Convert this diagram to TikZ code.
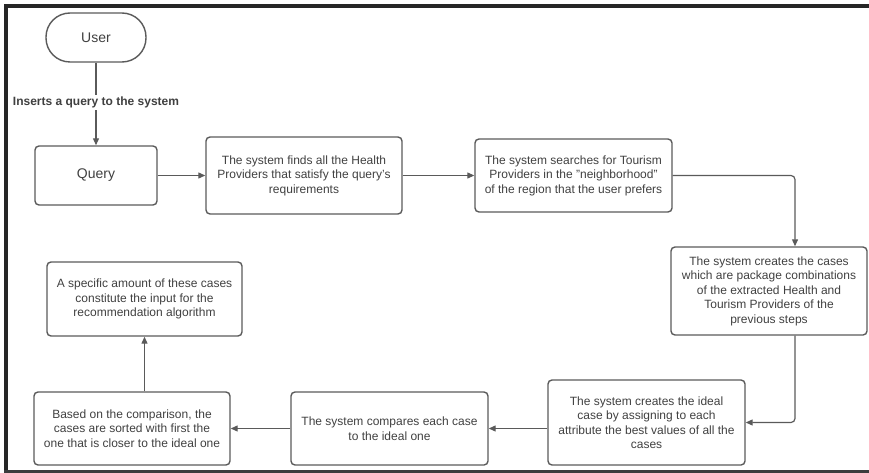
\documentclass[tikz,border=0pt]{standalone}
\usepackage{fontspec}
\setmainfont{Liberation Sans}
\usetikzlibrary{arrows.meta}
\definecolor{boxline}{HTML}{5A5A5A}
\definecolor{boxtext}{HTML}{404040}
\definecolor{frameline}{HTML}{262626}
\begin{document}
\begin{tikzpicture}[x=1pt,y=-1pt,
  flowbox/.style={draw=boxline,line width=1.4pt,rounded corners=4pt,
    inner sep=0pt,align=center,text=boxtext,
    font=\fontsize{12}{14.5}\selectfont},
  bigtext/.style={font=\fontsize{14}{17}\selectfont},
  link/.style={draw=boxline,line width=1.2pt,
    -{Triangle[length=7pt,width=6pt]}},
]
\useasboundingbox (0,0) rectangle (869,473);
% outer frame (top, left and bottom bands)
\fill[frameline] (4,4) rectangle (869,8);
\fill[frameline] (4,4) rectangle (8,473);
\fill[frameline!90] (4,470) rectangle (869,473);

% nodes
\node[flowbox,bigtext,rounded corners=24pt,minimum width=100pt,minimum height=49pt]
  (user) at (96,37.5) {User};
\node[flowbox,bigtext,minimum width=122pt,minimum height=59pt]
  (query) at (96,175.5) {Query};
\node[flowbox,minimum width=196pt,minimum height=77pt]
  (health) at (304,175.5) {The system finds all the Health\\Providers that satisfy the query's\\requirements};
\node[flowbox,minimum width=197pt,minimum height=73pt]
  (tourism) at (573.5,175.5) {The system searches for Tourism\\Providers in the "neighborhood"\\of the region that the user prefers};
\node[flowbox,minimum width=196pt,minimum height=88pt]
  (cases) at (769,291) {The system creates the cases\\which are package combinations\\of the extracted Health and\\Tourism Providers of the\\previous steps};
\node[flowbox,minimum width=197pt,minimum height=85pt]
  (ideal) at (646.5,422.5) {The system creates the ideal\\case by assigning to each\\attribute the best values of all the\\cases};
\node[flowbox,minimum width=197pt,minimum height=73pt]
  (compare) at (389.5,428.5) {The system compares each case\\to the ideal one};
\node[flowbox,minimum width=196pt,minimum height=73pt]
  (sorted) at (132,428.5) {Based on the comparison, the\\cases are sorted with first the\\one that is closer to the ideal one};
\node[flowbox,minimum width=195pt,minimum height=74pt]
  (specific) at (144.5,299) {A specific amount of these cases\\constitute the input for the\\recommendation algorithm};

% routing column on the right
\coordinate (rcol) at (795,0);

% connectors
\draw[link] (user) -- node[fill=white,text=boxtext,inner sep=2pt,
  font=\fontsize{12}{14}\selectfont\bfseries,pos=0.48] (lbl) {Inserts a query to the system} (query);
\draw[link] (query) -- (health);
\draw[link] (health) -- (tourism);
\draw[link,rounded corners=4pt] (tourism.east) -| (cases.north -| rcol);
\draw[link,rounded corners=4pt] (cases.south -| rcol) |- (ideal.east);
\draw[link] (compare.east -| ideal.west) -- (compare.east);
\draw[link] (compare) -- (sorted);
\draw[link] (specific.south |- sorted.north) -- (specific.south);
\end{tikzpicture}
\end{document}
